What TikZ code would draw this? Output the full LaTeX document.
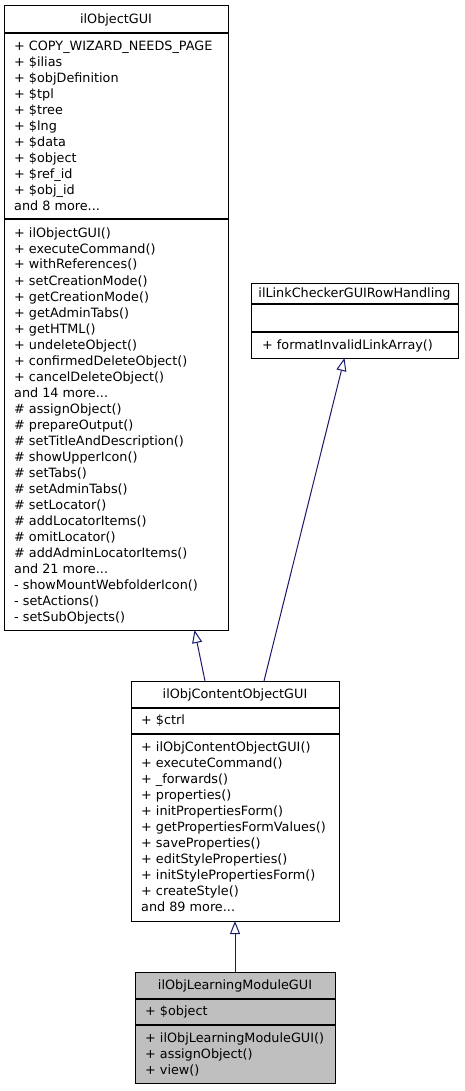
\documentclass[tikz,border=0pt]{standalone}
\usepackage{fontspec}
\setmainfont{DejaVu Sans}
\usetikzlibrary{arrows.meta}
\definecolor{edgecol}{RGB}{25,25,112}
\definecolor{clsgray}{RGB}{191,191,191}
\newcommand\andmore[1]{and #1 more...}
\begin{document}
\begin{tikzpicture}[x=1pt,y=-1pt,
  frame/.style={draw=black, line width=1pt, anchor=north west, inner sep=0pt, outer sep=0pt},
  sepline/.style={draw=black, line width=1.4pt},
  title/.style={anchor=base, inner sep=0pt, font=\fontsize{12.8}{15}\selectfont},
  mem/.style={anchor=base west, inner sep=0pt, font=\fontsize{12.8}{15}\selectfont},
  inherit/.style={draw=edgecol, line width=1pt, -{Triangle[open,length=13pt,width=10pt,fill=white]}}
]
\useasboundingbox (0,0) rectangle (464,1091);

% ---------- ilObjectGUI ----------
\node[frame, minimum width=224pt, minimum height=624pt] (ogui) at (4,6) {};
\draw[sepline] (4,33) -- (228,33);
\draw[sepline] (4,219) -- (228,219);
\node[title] (ogt) at (116,24) {ilObjectGUI};
\foreach [count=\i from 0] \t in {{+ COPY\_WIZARD\_NEEDS\_PAGE},{+ \$ilias},{+ \$objDefinition},{+ \$tpl},{+ \$tree},{+ \$lng},{+ \$data},{+ \$object},{+ \$ref\_id},{+ \$obj\_id},{\andmore{8}}}
  \node[mem] (oga\i) at (14,51+16*\i) {\t};
\foreach [count=\i from 0] \t in {{+ ilObjectGUI()},{+ executeCommand()},{+ withReferences()},{+ setCreationMode()},{+ getCreationMode()},{+ getAdminTabs()},{+ getHTML()},{+ undeleteObject()},{+ confirmedDeleteObject()},{+ cancelDeleteObject()},{\andmore{14}},{\# assignObject()},{\# prepareOutput()},{\# setTitleAndDescription()},{\# showUpperIcon()},{\# setTabs()},{\# setAdminTabs()},{\# setLocator()},{\# addLocatorItems()},{\# omitLocator()},{\# addAdminLocatorItems()},{\andmore{21}},{- showMountWebfolderIcon()},{- setActions()},{- setSubObjects()}}
  \node[mem] (ogm\i) at (14,237+16*\i) {\t};

% ---------- ilLinkCheckerGUIRowHandling ----------
\node[frame, minimum width=207pt, minimum height=75pt] (lc) at (251,283) {};
\draw[sepline] (251,304) -- (458,304);
\draw[sepline] (251,332) -- (458,332);
\node[title] (lct) at (354.5,297) {ilLinkCheckerGUIRowHandling};
\node[mem] (lcm0) at (262,349.5) {+ formatInvalidLinkArray()};

% ---------- ilObjContentObjectGUI ----------
\node[frame, minimum width=208pt, minimum height=240pt] (cgui) at (131,681) {};
\draw[sepline] (131,708) -- (339,708);
\draw[sepline] (131,734) -- (339,734);
\node[title] (cgt) at (235,698.5) {ilObjContentObjectGUI};
\node[mem] (cga0) at (141,724.5) {+ \$ctrl};
\foreach [count=\i from 0] \t in {{+ ilObjContentObjectGUI()},{+ executeCommand()},{+ \_forwards()},{+ properties()},{+ initPropertiesForm()},{+ getPropertiesFormValues()},{+ saveProperties()},{+ editStyleProperties()},{+ initStylePropertiesForm()},{+ createStyle()},{\andmore{89}}}
  \node[mem] (cgm\i) at (141,751.5+16*\i) {\t};

% ---------- ilObjLearningModuleGUI ----------
\node[frame, fill=clsgray, minimum width=200pt, minimum height=111pt] (lm) at (135,972) {};
\draw[sepline] (135,999) -- (335,999);
\draw[sepline] (135,1025) -- (335,1025);
\node[title] (lmt) at (235,989.5) {ilObjLearningModuleGUI};
\node[mem] (lma0) at (145,1015.5) {+ \$object};
\foreach [count=\i from 0] \t in {{+ ilObjLearningModuleGUI()},{+ assignObject()},{+ view()}}
  \node[mem] (lmm\i) at (145,1042.5+16*\i) {\t};

% ---------- inheritance ----------
\draw[inherit] ([xshift=74pt]cgui.north west) -- ([xshift=190.5pt]ogui.south west);
\draw[inherit] ([xshift=133pt]cgui.north west) -- ([xshift=93.5pt]lc.south west);
\draw[inherit] (lm.north) -- (cgui.south);
\end{tikzpicture}
\end{document}
